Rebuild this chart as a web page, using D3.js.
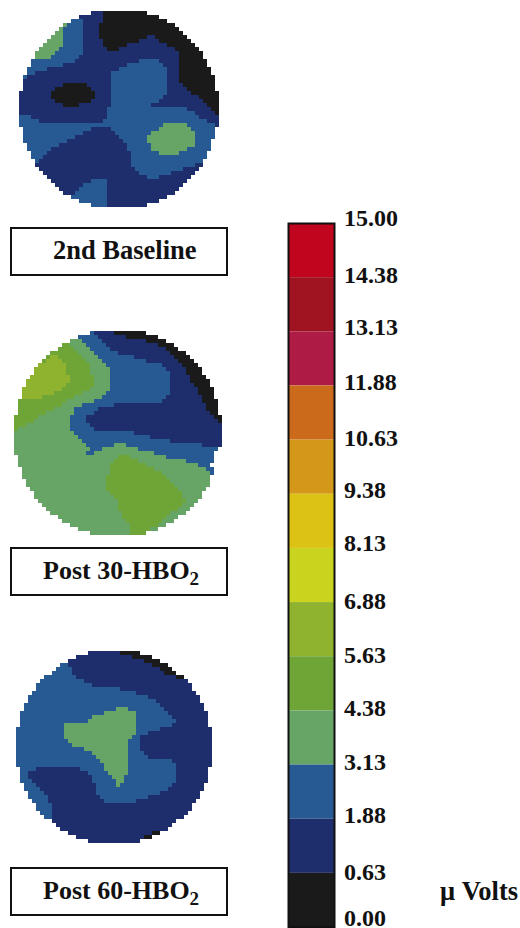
<!DOCTYPE html>
<html lang="en">
<head>
  <meta charset="UTF-8">
  <title>EEG maps</title>
  <script src="https://d3js.org/d3.v7.min.js"></script>
  <style>
    html, body { margin: 0; background: #fff; overflow: hidden; }
    text { font-family: "Liberation Serif", serif; font-weight: bold; fill: #111; }
  </style>
</head>
<body>
  <svg width="520" height="928"></svg>
  <script>
    // scale labels, top to bottom
    const scaleLabels = ["15.00","14.38","13.13","11.88","10.63","9.38","8.13","6.88","5.63","4.38","3.13","1.88","0.63","0.00"];
    // one colour per band, level 0 is the lowest band
    const levels = [0,1,2,3,4,5,6,7,8,9,10,11,12];
    const levelColors = ["#1a1a1a","#1e2d6b","#275a93","#66a566","#6fa536","#8fb32f","#cad31d","#dcc214","#d3981a","#cc6a1b","#ae1c46","#9f1420","#c2051f"];
    const unitLabel = "μ Volts";

    // each map row: first column, then pairs of level and end column
    const baselineRows = [
      "18 1 21 0 32",
      "15 1 21 0 35",
      "13 2 16 1 21 0 37",
      "11 3 12 2 16 1 20 0 39",
      "10 3 11 2 16 1 20 0 40",
      "9 3 11 2 16 1 20 0 41",
      "8 3 11 2 16 1 20 0 32 1 34 0 42",
      "7 3 11 2 16 1 21 0 30 1 35 0 43",
      "6 3 11 2 16 1 21 0 27 1 37 0 44",
      "5 3 10 2 16 1 22 0 25 1 39 0 45",
      "4 3 9 2 16 1 40 0 46",
      "4 3 8 2 15 1 40 0 46",
      "3 2 14 1 30 2 35 1 40 0 47",
      "3 2 11 1 27 2 36 1 40 0 47",
      "2 2 7 1 25 2 37 1 40 0 48",
      "2 2 4 1 23 2 37 1 40 0 48",
      "1 2 2 1 23 2 37 1 40 0 49",
      "1 1 23 2 37 1 40 0 49",
      "1 1 11 0 17 1 23 2 37 1 41 0 49",
      "1 1 9 0 18 1 23 2 37 1 42 0 49",
      "0 1 8 0 19 1 23 2 37 1 43 0 50",
      "0 1 8 0 19 1 23 2 36 1 45 0 50",
      "0 1 9 0 18 1 23 2 35 1 46 0 50",
      "0 1 11 0 15 1 23 2 33 1 47 0 50",
      "0 1 22 2 42 1 48 0 50",
      "0 1 22 2 44 1 49 0 50",
      "0 2 3 1 22 2 45 1 50",
      "0 2 5 1 21 2 47 1 50",
      "0 2 36 3 42 2 49 1 50",
      "1 2 18 1 23 2 35 3 43 2 49",
      "1 2 16 1 24 2 33 3 44 2 49",
      "1 2 14 1 25 2 32 3 44 2 49",
      "1 2 12 1 26 2 32 3 44 2 48",
      "2 2 10 1 27 2 33 3 44 2 48",
      "2 2 8 1 27 2 33 3 42 2 48",
      "3 2 7 1 28 2 35 3 40 2 47",
      "3 2 6 1 28 2 47",
      "4 2 5 1 28 2 46",
      "4 1 28 2 44 1 46",
      "5 1 29 2 41 1 45",
      "6 1 30 2 38 1 44",
      "7 1 32 2 35 1 43",
      "8 1 18 2 22 1 42",
      "9 1 16 2 22 1 41",
      "10 1 15 2 22 1 40",
      "11 1 14 2 22 1 39",
      "13 2 22 1 37",
      "15 2 22 1 35",
      "18 2 22 1 32"
    ];

    const post30Rows = [
      "19 2 20 1 25 0 33",
      "16 2 21 1 28 0 36",
      "14 3 17 2 22 1 33 0 38",
      "12 4 14 3 18 2 23 1 36 0 40",
      "11 4 15 3 19 2 24 1 38 0 41",
      "9 4 16 3 20 2 26 1 39 0 43",
      "8 4 9 5 11 4 17 3 21 2 30 1 40 0 44",
      "7 4 8 5 12 4 18 3 22 2 33 1 41 0 45",
      "6 5 13 4 19 3 23 2 37 1 42 0 46",
      "5 5 13 4 19 3 24 2 38 1 43 0 47",
      "5 5 13 4 19 3 24 2 39 1 43 0 47",
      "4 5 14 4 20 3 24 2 39 1 44 0 48",
      "3 5 14 4 20 3 24 2 39 1 44 0 49",
      "3 5 13 4 20 3 24 2 39 1 45 0 49",
      "2 5 12 4 19 3 24 2 39 1 46 0 50",
      "2 5 10 4 17 3 23 2 39 1 46 0 50",
      "2 5 7 4 15 3 22 2 38 1 47 0 50",
      "1 4 13 3 20 2 37 1 47 0 51",
      "1 4 12 3 17 2 25 1 48 0 51",
      "1 4 10 3 15 2 21 1 48 0 51",
      "1 4 8 3 15 2 20 1 49 0 51",
      "0 4 6 3 14 2 18 1 50 0 52",
      "0 4 5 3 14 2 18 1 51 0 52",
      "0 4 3 3 14 2 19 1 52",
      "0 4 1 3 14 2 20 1 52",
      "0 3 15 2 30 1 52",
      "0 3 16 2 34 1 52",
      "0 3 17 2 39 1 52",
      "0 3 18 2 25 3 28 2 47 1 52",
      "0 3 19 2 22 3 31 2 51",
      "0 3 18 2 20 3 35 2 50",
      "1 3 26 4 29 3 38 2 50",
      "1 3 25 4 31 3 43 2 50",
      "1 3 24 4 33 3 46 2 49",
      "2 3 24 4 35 3 48 2 50",
      "2 3 24 4 37 3 49 2 50",
      "2 3 23 4 38 3 49",
      "3 3 23 4 39 3 49",
      "3 3 23 4 40 3 49",
      "4 3 23 4 41 3 48",
      "5 3 24 4 42 3 47",
      "5 3 25 4 42 3 47",
      "6 3 26 4 43 3 46",
      "7 3 26 4 42 3 45",
      "8 3 26 4 41 3 44",
      "9 3 27 4 39 3 43",
      "11 3 27 4 38 3 41",
      "12 3 28 4 37 3 40",
      "14 3 29 4 36 3 38",
      "16 3 29 4 34 3 36",
      "19 3 29 4 33"
    ];

    const post60Rows = [
      "18 1 26 0 31",
      "15 1 29 0 34",
      "13 1 32 0 36",
      "11 2 13 1 34 0 38",
      "10 2 14 1 36 0 39",
      "9 2 14 1 37 0 40",
      "7 2 15 1 40 0 42",
      "6 2 17 1 43",
      "5 2 19 1 44",
      "5 2 26 1 44",
      "4 2 30 1 45",
      "3 2 33 1 46",
      "3 2 35 1 46",
      "2 2 36 1 47",
      "2 2 25 3 28 2 37 1 47",
      "1 2 22 3 30 2 38 1 48",
      "1 2 19 3 30 2 39 1 48",
      "1 2 18 3 30 2 40 1 48",
      "1 2 12 3 30 2 39 1 48",
      "0 2 12 3 30 2 36 1 49",
      "0 2 12 3 30 2 33 1 49",
      "0 2 12 3 29 2 31 1 49",
      "0 2 13 3 28 2 31 1 49",
      "0 2 14 3 28 2 31 1 49",
      "0 2 17 3 28 2 31 1 49",
      "0 2 19 3 28 2 32 1 49",
      "0 2 20 3 28 2 33 1 49",
      "0 2 21 3 28 2 39 1 49",
      "0 2 22 3 28 2 40 1 49",
      "1 2 5 1 16 2 22 3 28 2 40 1 48",
      "1 2 3 1 18 2 23 3 28 2 40 1 48",
      "1 2 3 1 19 2 24 3 27 2 40 1 48",
      "1 2 4 1 19 2 25 3 27 2 40 1 48",
      "2 2 5 1 20 2 25 3 26 2 39 1 47",
      "2 2 6 1 20 2 38 1 47",
      "3 2 7 1 20 2 36 1 46",
      "3 2 8 1 21 2 33 1 46",
      "4 2 8 1 22 2 30 1 45",
      "5 2 9 1 44",
      "5 2 9 1 44",
      "6 2 9 1 43",
      "7 2 9 1 42",
      "9 1 40",
      "10 1 39",
      "11 1 38",
      "13 1 34 0 36",
      "15 1 32 0 34",
      "18 1 31"
    ];

    const mapTitles = ["2nd Baseline", "Post 30-HBO", "Post 60-HBO"];
    const mapRows = [baselineRows, post30Rows, post60Rows];

    // layout, in page pixels
    const cell = 4;
    const mapOrigins = [[19, 11], [14, 331], [16, 651]];
    const boxTops = [228, 548, 868];
    const titleX = [53, 43, 43];
    const labelDrop = [2, 5, 3, 4, 6, 4, 3, 6, 6, 5, 5, 4, 7, -2];

    const svg = d3.select("svg");
    const levelColor = d3.scaleOrdinal().domain(levels).range(levelColors);

    // turns "start level end level end" into one record per cell
    function cellsOf(rows) {
      return rows.flatMap((row, r) => {
        const nums = row.split(" ").map(Number);
        const out = [];
        let c = nums[0];
        for (let i = 1; i < nums.length; i += 2) {
          for (; c < nums[i + 1]; c++) out.push({ r, c, level: nums[i] });
        }
        return out;
      });
    }

    mapRows.forEach((rows, i) => {
      const cells = cellsOf(rows);
      const [x0, y0] = mapOrigins[i];
      const cols = d3.max(cells, d => d.c) + 1;
      const x = d3.scaleLinear().domain([0, cols]).range([x0, x0 + cell * cols]);
      const y = d3.scaleLinear().domain([0, rows.length]).range([y0, y0 + cell * rows.length]);

      svg.append("g").attr("shape-rendering", "crispEdges")
        .selectAll("rect")
        .data(cells)
        .join("rect")
        .attr("x", d => x(d.c))
        .attr("y", d => y(d.r))
        .attr("width", x(1) - x(0))
        .attr("height", y(1) - y(0))
        .attr("fill", d => levelColor(d.level));

      // title box under the map
      svg.append("rect")
        .attr("x", 11).attr("y", boxTops[i])
        .attr("width", 216).attr("height", 47)
        .attr("fill", "#fff").attr("stroke", "#111").attr("stroke-width", 2);

      const title = svg.append("text")
        .attr("x", titleX[i]).attr("y", boxTops[i] + 31)
        .attr("font-size", i > 0 ? 26 : 26.5)
        .text(mapTitles[i]);
      if (i > 0) {
        title.append("tspan").attr("font-size", 19).attr("dy", 6).text("2");
      }
    });

    // colour bar
    const barY = d3.scalePoint().domain(scaleLabels).range([223, 927]);
    const barBands = d3.pairs(scaleLabels).map(([top, bottom], i) => ({ top, bottom, level: levels.length - 1 - i }));

    svg.append("g").selectAll("rect")
      .data(barBands)
      .join("rect")
      .attr("x", 289)
      .attr("y", d => barY(d.top))
      .attr("width", 45)
      .attr("height", d => barY(d.bottom) - barY(d.top))
      .attr("fill", d => levelColor(d.level));

    svg.append("rect")
      .attr("x", 288.5).attr("y", 223.5)
      .attr("width", 46).attr("height", 703.5)
      .attr("fill", "none").attr("stroke", "#111").attr("stroke-width", 2);

    const axis = svg.append("g")
      .attr("transform", "translate(335,0)")
      .call(d3.axisRight(barY).tickSize(0).tickPadding(9));
    axis.select(".domain").remove();
    axis.selectAll("text")
      .attr("font-size", 24)
      .attr("font-family", null)
      .attr("dy", (d, i) => labelDrop[i]);

    svg.append("text")
      .attr("x", 440).attr("y", 900)
      .attr("font-size", 26.5)
      .text(unitLabel);
  </script>
</body>
</html>
